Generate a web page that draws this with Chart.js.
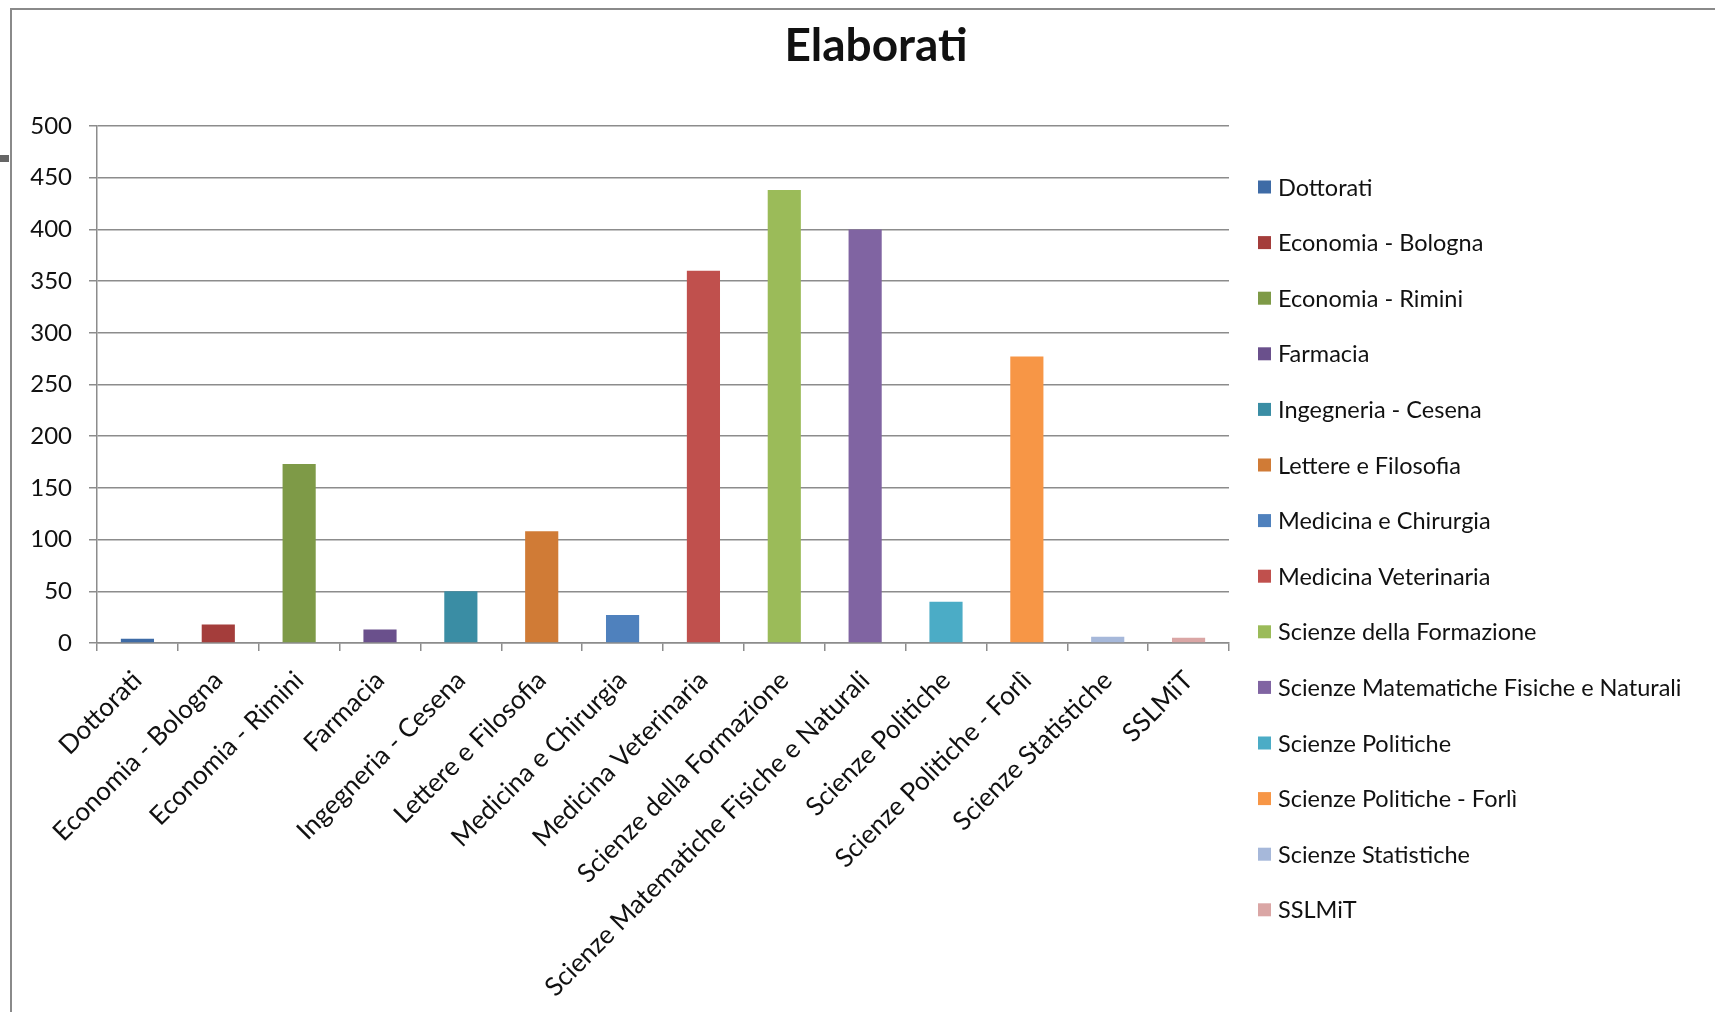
<!DOCTYPE html>
<html>
<head>
<meta charset="utf-8">
<title>Elaborati</title>
<script src="https://cdn.jsdelivr.net/npm/chart.js@4.4.1/dist/chart.umd.min.js"></script>
<style>
    html, body { margin: 0; padding: 0; background: #fff; }
    #wrap { position: relative; width: 1715px; height: 1012px; }
</style>
</head>
<body>
<div id="wrap"><canvas id="myChart" width="1715" height="1012"></canvas></div>
<script>
// Dati del grafico
const categories = [
    'Dottorati', 'Economia - Bologna', 'Economia - Rimini', 'Farmacia',
    'Ingegneria - Cesena', 'Lettere e Filosofia', 'Medicina e Chirurgia',
    'Medicina Veterinaria', 'Scienze della Formazione',
    'Scienze Matematiche Fisiche e Naturali', 'Scienze Politiche',
    'Scienze Politiche - Forlì', 'Scienze Statistiche', 'SSLMiT'
];
const elaborati = [4, 18, 173, 13, 50, 108, 27, 360, 438, 400, 40, 277, 6, 5];
const yTicks = [0, 50, 100, 150, 200, 250, 300, 350, 400, 450, 500];
const chartTitle = 'Elaborati';

const barColors = [
    '#3E6BA6', '#A43D3B', '#7E9A47', '#6A508C', '#3A8DA4', '#D07B36', '#4F81BD',
    '#C0504D', '#9BBB59', '#8064A2', '#4BACC6', '#F79646', '#A6B8DA', '#DAA6A5'
];

const fontFamily = 'Lato, "Open Sans", sans-serif';
const textColor = '#111';
const gridColor = '#8c8c8c';

// Titolo, legenda e cornice disegnati a mano (posizioni fisse)
const sideLegend = {
    id: 'sideLegend',
    beforeDraw(chart) {
        const c = chart.ctx;
        c.save();
        c.strokeStyle = '#8a8a8a';
        c.lineWidth = 2;
        c.beginPath();
        c.moveTo(11, 1012);
        c.lineTo(11, 9);
        c.lineTo(1715, 9);
        c.stroke();
        c.fillStyle = '#666';
        c.fillRect(0, 155, 9, 7);
        c.restore();
    },
    afterDraw(chart) {
        const c = chart.ctx;
        const labels = chart.data.labels;
        const colors = chart.data.datasets[0].backgroundColor;
        c.save();
        c.fillStyle = textColor;
        c.font = 'bold 46px ' + fontFamily;
        c.textAlign = 'center';
        c.textBaseline = 'middle';
        c.fillText(chartTitle, 876, 46);

        c.font = '23.5px ' + fontFamily;
        c.textAlign = 'left';
        labels.forEach((label, i) => {
            const y = 187 + i * 55.6;
            c.fillStyle = colors[i];
            c.fillRect(1258, y - 6.5, 13, 13);
            c.fillStyle = textColor;
            c.fillText(label, 1278, y + 1);
        });
        c.restore();
    }
};

const ctx = document.getElementById('myChart').getContext('2d');
const myChart = new Chart(ctx, {
    type: 'bar',
    data: {
        labels: categories,
        datasets: [{
            label: chartTitle,
            data: elaborati,
            backgroundColor: barColors,
            borderWidth: 0,
            barPercentage: 0.41,
            categoryPercentage: 1
        }]
    },
    options: {
        responsive: false,
        animation: false,
        layout: { padding: { left: 0, right: 486, top: 126, bottom: 0 } },
        plugins: {
            legend: { display: false },
            tooltip: { enabled: false },
            title: { display: false }
        },
        scales: {
            x: {
                grid: {
                    display: true,
                    drawOnChartArea: false,
                    drawTicks: true,
                    tickLength: 8,
                    color: gridColor,
                    lineWidth: 1.5
                },
                border: { display: true, color: gridColor, width: 1.5 },
                ticks: {
                    color: textColor,
                    font: { family: fontFamily, size: 26 },
                    minRotation: 45,
                    maxRotation: 45,
                    autoSkip: false,
                    padding: 14
                },
                afterFit(scale) { scale.height = 369; }
            },
            y: {
                min: 0,
                max: 500,
                afterBuildTicks(scale) { scale.ticks = yTicks.map(v => ({ value: v })); },
                grid: { color: gridColor, lineWidth: 1.5, tickLength: 8 },
                border: { display: true, color: gridColor, width: 1.5 },
                ticks: {
                    color: textColor,
                    font: { family: fontFamily, size: 24 },
                    padding: 17
                },
                afterFit(scale) { scale.width = 97; }
            }
        }
    },
    plugins: [sideLegend]
});
</script>
</body>
</html>
